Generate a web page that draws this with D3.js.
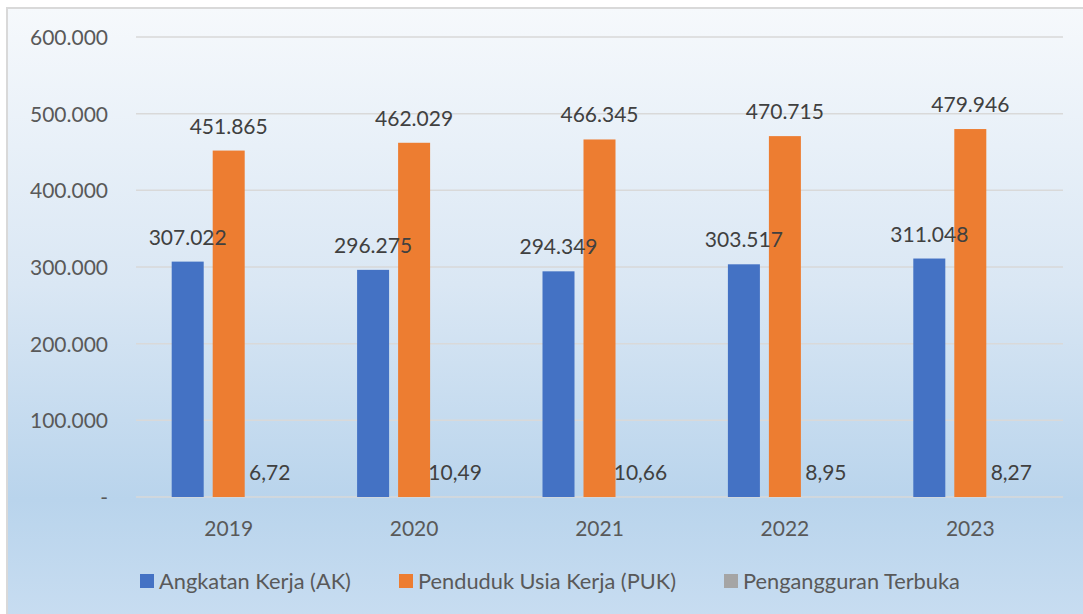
<!DOCTYPE html>
<html>
<head>
<meta charset="utf-8">
<script src="https://cdn.jsdelivr.net/npm/d3@7"></script>
<style>
  html, body { margin: 0; padding: 0; background: #ffffff; }
  svg { display: block; }
  text { font-family: Lato, "Open Sans", sans-serif; }
</style>
</head>
<body>
<svg id="chart" width="1083" height="614"></svg>
<script>
// Ketenagakerjaan per tahun
const years = ["2019", "2020", "2021", "2022", "2023"];
const seriesNames = ["Angkatan Kerja (AK)", "Penduduk Usia Kerja (PUK)", "Pengangguran Terbuka"];
const angkatanKerja = [307022, 296275, 294349, 303517, 311048];
const pendudukUsiaKerja = [451865, 462029, 466345, 470715, 479946];
const penganggruanTerbuka = [6.72, 10.49, 10.66, 8.95, 8.27];
const seriesLabels = [
  ["307.022", "296.275", "294.349", "303.517", "311.048"],
  ["451.865", "462.029", "466.345", "470.715", "479.946"],
  ["6,72", "10,49", "10,66", "8,95", "8,27"]
];
const yTicks = [0, 100000, 200000, 300000, 400000, 500000, 600000];
const yTickLabels = ["-", "100.000", "200.000", "300.000", "400.000", "500.000", "600.000"];
const colors = ["#4472c4", "#ed7d31", "#a5a5a5"];

const seriesValues = [angkatanKerja, pendudukUsiaKerja, penganggruanTerbuka];

const svg = d3.select("#chart");
const W = 1083, H = 614;

// Background panel with gradient
const defs = svg.append("defs");
const grad = defs.append("linearGradient")
  .attr("id", "bg").attr("x1", 0).attr("y1", 0).attr("x2", 0).attr("y2", 1);
grad.append("stop").attr("offset", "0%").attr("stop-color", "#f6f9fc");
grad.append("stop").attr("offset", "45%").attr("stop-color", "#dae7f4");
grad.append("stop").attr("offset", "80%").attr("stop-color", "#b9d4ec");
grad.append("stop").attr("offset", "100%").attr("stop-color", "#c8ddf1");

svg.append("rect")
  .attr("x", 7).attr("y", 8).attr("width", W).attr("height", H)
  .attr("fill", "url(#bg)")
  .attr("stroke", "#d9d9d9").attr("stroke-width", 2);

const plot = { left: 136, right: 1063, top: 37, bottom: 497 };

const x = d3.scaleBand().domain(years).range([plot.left, plot.right]).padding(0);
const barW = 32, barGap = 9;
const step = barW + barGap;
const xInner = d3.scaleBand()
  .domain(seriesNames)
  .range([0, x.bandwidth()])
  .paddingInner(barGap / step)
  .paddingOuter((x.bandwidth() - (3 * step - barGap)) / (2 * step));

const y = d3.scaleLinear().domain([0, 600000]).range([plot.bottom, plot.top]);

// Gridlines
svg.append("g")
  .selectAll("line")
  .data(yTicks)
  .join("line")
  .attr("x1", plot.left).attr("x2", plot.right)
  .attr("y1", d => y(d)).attr("y2", d => y(d))
  .attr("stroke", "#d9d9d9").attr("stroke-width", 1.5);

// Y axis labels
const yAxis = d3.axisLeft(y).tickValues(yTicks)
  .tickFormat((d, i) => yTickLabels[i]).tickSize(0).tickPadding(0);
const yG = svg.append("g").attr("transform", "translate(108,0)").call(yAxis);
yG.select(".domain").remove();
yG.selectAll("text")
  .attr("font-size", 21).attr("fill", "#595959")
  .attr("font-family", "Lato, 'Open Sans', sans-serif")
  .attr("dy", "0.35em");

// X axis labels
const xAxis = d3.axisBottom(x).tickSize(0).tickPadding(0);
const xG = svg.append("g").attr("transform", `translate(0,${plot.bottom})`).call(xAxis);
xG.select(".domain").remove();
xG.selectAll("text")
  .attr("font-size", 21).attr("fill", "#595959")
  .attr("font-family", "Lato, 'Open Sans', sans-serif")
  .attr("dy", null).attr("y", 39);

// Bars
const groups = svg.append("g").selectAll("g")
  .data(years)
  .join("g")
  .attr("transform", d => `translate(${x(d)},0)`);

seriesNames.forEach((name, si) => {
  groups.append("rect")
    .attr("x", xInner(name))
    .attr("width", xInner.bandwidth())
    .attr("y", (d, i) => y(seriesValues[si][i]))
    .attr("height", (d, i) => plot.bottom - y(seriesValues[si][i]))
    .attr("fill", colors[si]);
});

// Value labels
seriesNames.forEach((name, si) => {
  groups.append("text")
    .attr("x", xInner(name) + xInner.bandwidth() / 2)
    .attr("y", (d, i) => y(seriesValues[si][i]) - 17)
    .attr("text-anchor", "middle")
    .attr("font-size", 21)
    .attr("fill", "#404040")
    .text((d, i) => seriesLabels[si][i]);
});

// Legend
const legendX = [140, 399, 724];
const legend = svg.append("g").selectAll("g")
  .data(seriesNames)
  .join("g")
  .attr("transform", (d, i) => `translate(${legendX[i]},574)`);
legend.append("rect")
  .attr("width", 14).attr("height", 14)
  .attr("fill", (d, i) => colors[i]);
legend.append("text")
  .attr("x", 19).attr("y", 15)
  .attr("font-size", 21.8).attr("fill", "#595959")
  .text(d => d);
</script>
</body>
</html>
